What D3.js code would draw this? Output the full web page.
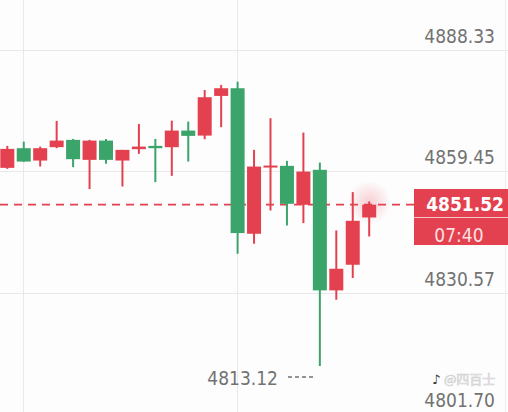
<!DOCTYPE html>
<html>
<head>
<meta charset="utf-8">
<script src="https://cdn.jsdelivr.net/npm/d3@7"></script>
<style>
  html, body { margin: 0; padding: 0; background: #fdfdfd; }
  svg { display: block; }
  .lbl { font-family: "DejaVu Sans Condensed", "DejaVu Sans", sans-serif; font-stretch: condensed; }
</style>
</head>
<body>
<div id="container"></div>
<script>
// candle data, oldest first (red = up, green = down)
const opens  = [4860.28, 4864.96, 4862.02, 4865.20, 4866.94, 4862.18, 4866.77, 4862.02, 4864.73, 4865.51, 4865.20, 4869.15, 4867.96, 4877.40, 4879.23, 4844.59, 4860.45, 4860.76, 4851.49, 4859.81, 4831.12, 4837.22, 4848.47];
const highs  = [4865.51, 4866.53, 4865.34, 4871.45, 4867.17, 4866.94, 4867.17, 4864.56, 4870.74, 4867.17, 4871.52, 4871.29, 4878.82, 4880.01, 4880.79, 4864.56, 4872.09, 4861.95, 4868.67, 4861.54, 4845.38, 4854.51, 4852.27];
const lows   = [4860.04, 4861.70, 4860.59, 4864.96, 4860.45, 4855.22, 4861.23, 4855.84, 4863.61, 4856.88, 4858.38, 4861.78, 4867.10, 4869.96, 4839.84, 4842.22, 4850.13, 4846.57, 4847.14, 4813.12, 4828.90, 4834.06, 4843.95];
const closes = [4864.80, 4861.78, 4864.96, 4866.77, 4862.35, 4866.77, 4862.18, 4864.56, 4865.34, 4864.96, 4869.15, 4867.89, 4877.09, 4879.23, 4844.76, 4860.59, 4860.83, 4851.72, 4859.40, 4831.12, 4836.27, 4847.68, 4851.52];

const yTicks = [4888.33, 4859.45, 4830.57, 4801.70];
const timeGridIdx = [1, 14];
const lastPrice = 4851.52;
const countdown = "07:40";
const minPrice = 4813.12;

const width = 508, height = 412;
const upColor = "#e3414f", downColor = "#3ba46a";
const gridColor = "#e9e9e9", textColor = "#727272";

const candles = opens.map((o, i) => ({ i, o, h: highs[i], l: lows[i], c: closes[i] }));

const x = d3.scaleLinear().domain([0, candles.length - 1]).range([7.3, 369.2]);
const y = d3.scaleLinear().domain([4801.70, 4888.33]).range([414, 50]);
const bodyW = 14;

const svg = d3.select("#container").append("svg")
  .attr("width", width)
  .attr("height", height);

svg.append("rect").attr("width", width).attr("height", height).attr("fill", "#fdfdfd");

// glow behind the live candle
const defs = svg.append("defs");
const glow = defs.append("radialGradient").attr("id", "glow");
glow.append("stop").attr("offset", "0%").attr("stop-color", upColor).attr("stop-opacity", 0.25);
glow.append("stop").attr("offset", "100%").attr("stop-color", upColor).attr("stop-opacity", 0);

// grid
svg.append("g").selectAll("line")
  .data(yTicks)
  .join("line")
  .attr("x1", 0).attr("x2", width)
  .attr("y1", d => Math.round(y(d)) + 0.5).attr("y2", d => Math.round(y(d)) + 0.5)
  .attr("stroke", gridColor);

svg.append("g").selectAll("line")
  .data(timeGridIdx)
  .join("line")
  .attr("x1", d => Math.round(x(d)) - 0.5).attr("x2", d => Math.round(x(d)) - 0.5)
  .attr("y1", 0).attr("y2", height)
  .attr("stroke", gridColor);

svg.append("line")
  .attr("x1", 505.5).attr("x2", 505.5).attr("y1", 0).attr("y2", height)
  .attr("stroke", "#ededed");

// y labels
svg.append("g").selectAll("text")
  .data(yTicks)
  .join("text")
  .attr("class", "lbl")
  .attr("x", 495)
  .attr("y", d => y(d) - 7)
  .attr("text-anchor", "end")
  .attr("font-size", 19)
  .attr("fill", textColor)
  .text(d => d.toFixed(2));

const last = candles[candles.length - 1];
svg.append("circle")
  .attr("cx", x(last.i)).attr("cy", y(last.h) + 1)
  .attr("r", 22)
  .attr("fill", "url(#glow)");

// last price dashed line
svg.append("line")
  .attr("x1", 0).attr("x2", 414)
  .attr("y1", y(lastPrice)).attr("y2", y(lastPrice))
  .attr("stroke", upColor)
  .attr("stroke-width", 1.6)
  .attr("stroke-dasharray", "8,6");

// candles
const g = svg.append("g");
g.selectAll("line.wick")
  .data(candles)
  .join("line")
  .attr("class", "wick")
  .attr("x1", d => x(d.i)).attr("x2", d => x(d.i))
  .attr("y1", d => y(d.h)).attr("y2", d => y(d.l))
  .attr("stroke", d => d.c >= d.o ? upColor : downColor)
  .attr("stroke-width", 2);

g.selectAll("rect.body")
  .data(candles)
  .join("rect")
  .attr("class", "body")
  .attr("x", d => x(d.i) - bodyW / 2)
  .attr("width", bodyW)
  .attr("y", d => y(Math.max(d.o, d.c)))
  .attr("height", d => Math.max(2, Math.abs(y(d.o) - y(d.c))))
  .attr("fill", d => d.c >= d.o ? upColor : downColor);

// price tag
svg.append("rect")
  .attr("x", 414).attr("y", 189).attr("width", 94).attr("height", 56)
  .attr("fill", upColor);
svg.append("line")
  .attr("x1", 414).attr("x2", 508).attr("y1", 217.5).attr("y2", 217.5)
  .attr("stroke", "#ffffff").attr("stroke-opacity", 0.7);
svg.append("text")
  .attr("class", "lbl")
  .attr("x", 504).attr("y", y(lastPrice) + 6)
  .attr("text-anchor", "end")
  .attr("font-size", 19).attr("font-weight", "bold")
  .attr("fill", "#ffffff")
  .text(lastPrice.toFixed(2));
svg.append("text")
  .attr("class", "lbl")
  .attr("x", 459).attr("y", 242)
  .attr("text-anchor", "middle")
  .attr("font-size", 19)
  .attr("fill", "#fbe0e2")
  .text(countdown);

// low marker
const lowC = candles.find(d => d.l === minPrice);
svg.append("text")
  .attr("class", "lbl")
  .attr("x", 278).attr("y", y(minPrice) + 19)
  .attr("text-anchor", "end")
  .attr("font-size", 19)
  .attr("fill", textColor)
  .text(minPrice.toFixed(2));
svg.append("line")
  .attr("x1", 288).attr("x2", x(lowC.i) - 5)
  .attr("y1", y(minPrice) + 11).attr("y2", y(minPrice) + 11)
  .attr("stroke", textColor)
  .attr("stroke-width", 1.5)
  .attr("stroke-dasharray", "4,3");

// watermark
svg.append("text")
  .attr("x", 432).attr("y", 384)
  .attr("font-size", 13)
  .attr("fill", "#333")
  .attr("font-family", "DejaVu Sans")
  .text("♪");
svg.append("text")
  .attr("x", 444).attr("y", 384)
  .attr("font-size", 13)
  .attr("font-family", "Noto Sans CJK SC")
  .attr("fill", "#f2f2f2")
  .attr("stroke", "#cfcfcf")
  .attr("stroke-width", 0.6)
  .text("@四百士");
</script>
</body>
</html>
